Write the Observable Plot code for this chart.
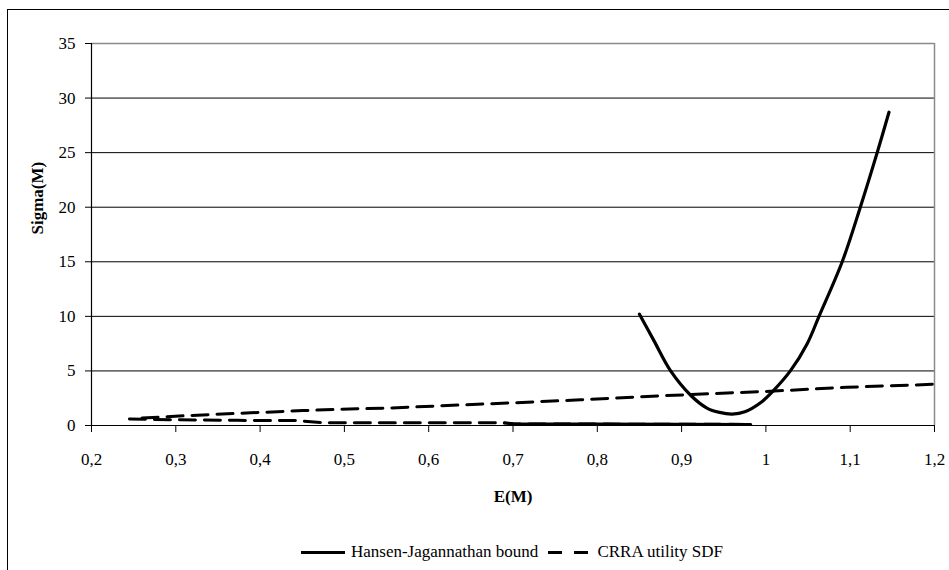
<!DOCTYPE html>
<html>
<head>
<meta charset="utf-8">
<script src="https://cdn.jsdelivr.net/npm/d3@7"></script>
<script src="https://cdn.jsdelivr.net/npm/@observablehq/plot@0.6"></script>
<style>
  html, body { margin: 0; padding: 0; background: #fff; overflow: hidden; }
  #wrap { position: relative; width: 949px; height: 570px; overflow: hidden; font-family: "Liberation Serif", "Times New Roman", "DejaVu Serif", serif; }
  #frame { position: absolute; left: 7px; top: 9px; width: 1100px; height: 800px; border: 1px solid #000; box-sizing: border-box; }
  #chart { position: absolute; left: 0; top: 0; }
  #chart svg text { font-family: "Liberation Serif", "Times New Roman", "DejaVu Serif", serif; }
  #legend { position: absolute; left: 0; top: 542px; width: 949px; padding-left: 75px; box-sizing: border-box;
            display: flex; justify-content: center; align-items: center; font-size: 17px; color: #000; white-space: nowrap; }
  .sw { display: inline-block; width: 44px; height: 0; border-top: 3px solid #000; margin-right: 6px; }
  .swd { display: inline-block; width: 40px; height: 3px; margin: 0 9px 0 10px;
         background: linear-gradient(to right, #000 0 14px, transparent 14px 26px, #000 26px 40px); }
</style>
</head>
<body>
<div id="wrap">
  <div id="frame"></div>
  <div id="chart"></div>
  <div id="legend">
    <span class="sw"></span><span>Hansen-Jagannathan bound</span>
    <span class="swd"></span><span>CRRA utility SDF</span>
  </div>
</div>
<script>
// Hansen-Jagannathan bound
const hjE = [0.85, 0.867, 0.887, 0.911, 0.93, 0.945, 0.96, 0.975, 0.994, 1.009, 1.029, 1.049, 1.063, 1.0905, 1.112, 1.132, 1.146];
const hjS = [10.2, 7.8, 5.0, 2.75, 1.6, 1.2, 1.05, 1.25, 2.1, 3.2, 5.0, 7.5, 10.0, 15.0, 20.0, 25.0, 28.7];

// CRRA utility SDF, upper branch
const crraUpE = [0.26, 0.317, 0.389, 0.451, 0.515, 0.546, 0.622, 0.70, 0.78, 0.875, 1.005, 1.096, 1.2];
const crraUpS = [0.68, 0.92, 1.16, 1.37, 1.53, 1.58, 1.83, 2.08, 2.35, 2.72, 3.14, 3.5, 3.78];

// CRRA utility SDF, lower branch
const crraLoE = [0.245, 0.3, 0.373, 0.444, 0.472, 0.555, 0.69, 0.70, 0.8, 0.9, 0.982];
const crraLoS = [0.6, 0.52, 0.47, 0.46, 0.26, 0.25, 0.24, 0.15, 0.13, 0.11, 0.1];

const xTicks = [0.2, 0.3, 0.4, 0.5, 0.6, 0.7, 0.8, 0.9, 1.0, 1.1, 1.2];
const yTicks = [0, 5, 10, 15, 20, 25, 30, 35];

const hj = hjE.map((e, i) => ({e, s: hjS[i]}));
const crra = [
  ...crraUpE.map((e, i) => ({e, s: crraUpS[i], branch: "up"})),
  ...crraLoE.map((e, i) => ({e, s: crraLoS[i], branch: "lo"}))
];
const crraDense = crra.filter(d => d.branch === "lo" && d.e >= 0.69);

const fmtX = d => String(+d.toFixed(1)).replace(".", ",");

const plot = Plot.plot({
  width: 949,
  height: 520,
  marginTop: 43,
  marginRight: 15,
  marginBottom: 95,
  marginLeft: 91,
  style: {fontFamily: "'Liberation Serif', 'Times New Roman', 'DejaVu Serif', serif", fontSize: "17px", color: "#000", background: "transparent"},
  x: {domain: [0.2, 1.2], label: null},
  y: {domain: [0, 35], label: null},
  marks: [
    Plot.ruleY(yTicks.filter(v => v > 0 && v < 35), {stroke: "#000", strokeWidth: 1}),
    Plot.ruleY([35], {stroke: "#8a8a8a", strokeWidth: 1.5}),
    Plot.ruleX([1.2], {stroke: "#8a8a8a", strokeWidth: 1.5}),
    Plot.line(crra, {x: "e", y: "s", z: "branch", stroke: "#000", strokeWidth: 3, strokeDasharray: "16,9"}),
    Plot.line(crraDense, {x: "e", y: "s", stroke: "#000", strokeWidth: 3}),
    Plot.line(hj, {x: "e", y: "s", stroke: "#000", strokeWidth: 3.2, curve: "catmull-rom"}),
    Plot.ruleX([0.2], {stroke: "#000", strokeWidth: 1.2}),
    Plot.ruleY([0], {stroke: "#000", strokeWidth: 1.2}),
    Plot.axisX({ticks: xTicks, tickFormat: fmtX, tickSize: 7, tickPadding: 20, label: null, stroke: "#000"}),
    Plot.axisY({ticks: yTicks, tickFormat: d => String(d), tickSize: 6, tickPadding: 10, label: null, stroke: "#000"}),
    Plot.text(["E(M)"], {frameAnchor: "bottom", dy: 76, fontWeight: "bold", fontSize: 17}),
    Plot.text(["Sigma(M)"], {frameAnchor: "left", dx: -54, rotate: -90, fontWeight: "bold", fontSize: 17})
  ]
});
document.getElementById("chart").appendChild(plot);
</script>
</body>
</html>
